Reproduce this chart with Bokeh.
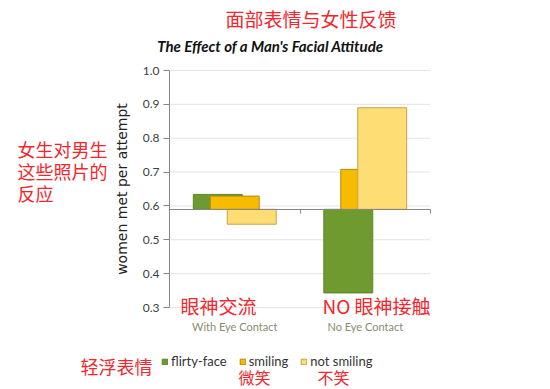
from bokeh.plotting import figure
from bokeh.models import (Range1d, FixedTicker, Label, LinearAxis, NumeralTickFormatter,
                          Legend, LegendItem, ColumnDataSource)
from bokeh.embed import file_html
from bokeh.resources import INLINE

categories = ["With Eye Contact", "No Eye Contact"]
flirty_face = [0.634, 0.343]
smiling = [0.629, 0.708]
not_smiling = [0.546, 0.890]
baseline = 0.59
y_ticks = [0.3, 0.4, 0.5, 0.6, 0.7, 0.8, 0.9, 1.0]

# ---- layout (pixels inside the figure) ----
FW, FH = 548, 387
PL, PR, PT, PB = 169, 430, 70, 307          # plotting area edges
Y0, Y1 = 0.3, 1.0
n = len(categories)
xs = (PR - PL) / n
ys = (PB - PT) / (Y1 - Y0)
x_range = Range1d(-PL / xs, n + (FW - PR) / xs)
y_range = Range1d(Y0 - (FH - PB) / ys, Y1 + PT / ys)

centers = [i + 0.5 for i in range(n)]
OFF, W = 0.13, 0.375
src = ColumnDataSource(dict(
    x1=[c - OFF for c in centers], x2=centers, x3=[c + OFF for c in centers],
    flirty=flirty_face, smiling=smiling, notsmiling=not_smiling))

p = figure(width=FW, height=FH, x_range=x_range, y_range=y_range,
           output_backend="svg", toolbar_location=None,
           x_axis_location=None, y_axis_location=None,
           min_border_left=0, min_border_right=0, min_border_top=0, min_border_bottom=0)
p.outline_line_color = None
p.grid.visible = False

# horizontal grid lines across the category area
p.segment(x0=[0] * len(y_ticks), x1=[n] * len(y_ticks), y0=y_ticks, y1=y_ticks,
          line_color="#e4e4e4", line_width=1)

# y axis
yax = LinearAxis(fixed_location=0, bounds=(Y0, Y1), ticker=FixedTicker(ticks=y_ticks),
                 formatter=NumeralTickFormatter(format="0.0"),
                 axis_label="women met per attempt", axis_label_text_font="DejaVu Sans",
                 axis_label_text_font_size="14px", axis_label_text_font_style="normal",
                 axis_label_text_color="#222222", axis_label_standoff=10,
                 major_label_text_font="Lato", major_label_text_font_size="12px",
                 major_label_text_color="#404040", axis_line_color="#868686",
                 major_tick_line_color="#868686", major_tick_out=6, major_tick_in=0,
                 minor_tick_line_color=None, major_label_standoff=4)
p.add_layout(yax, "left")

# category labels at the bottom
xax = LinearAxis(fixed_location=Y0, ticker=FixedTicker(ticks=centers),
                 major_label_overrides={c: lab for c, lab in zip(centers, categories)},
                 axis_line_color=None, major_tick_line_color=None, minor_tick_line_color=None,
                 major_label_text_font="Lato", major_label_text_font_size="11px",
                 major_label_text_color="#8a8a6e", major_label_standoff=6)
p.add_layout(xax, "below")

r1 = p.vbar(x="x1", top="flirty", bottom=baseline, width=W, source=src,
            fill_color="#6e9a30", line_color="#5e8628", line_width=1)
r2 = p.vbar(x="x2", top="smiling", bottom=baseline, width=W, source=src,
            fill_color="#f7bc00", line_color="#b38a10", line_width=1)
r3 = p.vbar(x="x3", top="notsmiling", bottom=baseline, width=W, source=src,
            fill_color="#ffdd75", line_color="#c4a243", line_width=1)

# category axis crossing at the baseline, ticks between categories
bax = LinearAxis(fixed_location=baseline, bounds=(0, n), ticker=FixedTicker(ticks=list(range(n + 1))),
                 major_label_text_alpha=0, major_label_text_font_size="1px",
                 major_tick_out=4, major_tick_in=0, minor_tick_line_color=None,
                 axis_line_color="#868686", major_tick_line_color="#868686")
p.add_layout(bax, "below")

legend = Legend(items=[LegendItem(label="flirty-face", renderers=[r1]),
                       LegendItem(label="smiling", renderers=[r2]),
                       LegendItem(label="not smiling", renderers=[r3])],
                orientation="horizontal", location=(161, 18),
                glyph_width=7, glyph_height=7, label_standoff=3, spacing=12,
                label_text_font="Lato", label_text_font_size="13px", label_text_color="#333333",
                padding=4, margin=0, border_line_color=None, background_fill_alpha=0)
p.add_layout(legend, "center")


def img_label(x, y, text, font, size, color, style="normal", align="left"):
    lab = Label(x=x, y=FH - y, x_units="screen", y_units="screen", text=text,
                text_font=font, text_font_size=size, text_color=color, text_font_style=style,
                text_align=align, text_baseline="middle")
    p.add_layout(lab)


img_label(270, 45, "The Effect of a Man's Facial Attitude", "Lato", "15px", "#111111",
          style="bold italic", align="center")

RED = "#f2262c"
CJK = "Noto Sans CJK SC"
img_label(225, 18, "面部表情与女性反馈", CJK, "19px", RED)
img_label(17, 148, "女生对男生", CJK, "18px", RED)
img_label(17, 170, "这些照片的", CJK, "18px", RED)
img_label(17, 192, "反应", CJK, "18px", RED)
img_label(180, 305, "眼神交流", CJK, "19px", RED)
img_label(322, 305, "NO 眼神接触", CJK, "19px", RED)
img_label(80, 365, "轻浮表情", CJK, "18px", RED)
img_label(238, 376, "微笑", CJK, "16px", RED)
img_label(317, 376, "不笑", CJK, "16px", RED)

open("out.html", "w").write(file_html(p, INLINE))
